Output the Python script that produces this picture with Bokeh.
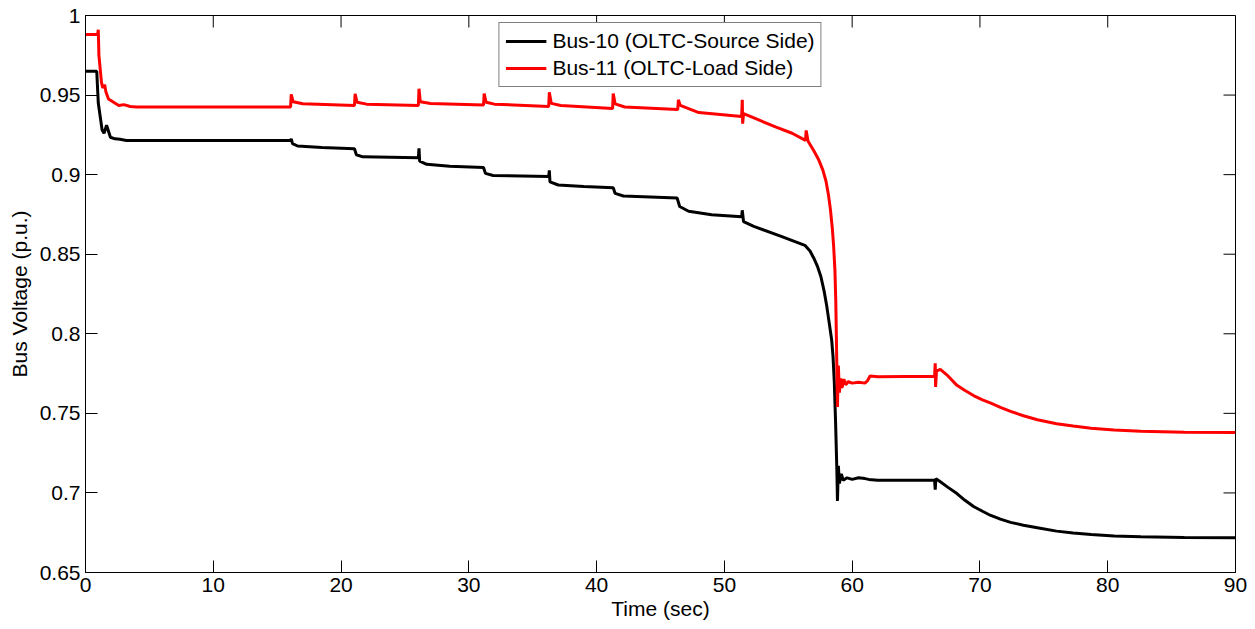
import math
from bokeh.plotting import figure
from bokeh.models import FixedTicker, Range1d, Legend, LegendItem
from bokeh.embed import file_html
from bokeh.resources import INLINE

# ---- data ----
t_bus10 = [0, 0.88, 1.0, 1.3, 1.45, 1.65, 1.95, 2.3, 2.7, 3.2,
           16.05, 16.1, 16.2, 16.6, 18.5, 21.05, 21.2, 21.7,
           26.05, 26.1, 26.15, 26.7, 28.5, 31.15, 31.3, 31.9,
           36.25, 36.3, 36.35, 37.0, 39.0, 41.3, 41.45, 42.1,
           46.3, 46.5, 47.2, 49.0, 51.35, 51.4, 51.5, 52.3, 54.5, 56.3,
           56.7, 57.0, 57.3, 57.55, 57.8, 58.0, 58.2, 58.4, 58.5, 58.6, 58.7, 58.8, 58.85,
           58.92, 59.0, 59.15, 59.3, 59.6, 60.0, 60.5, 61.0, 61.3, 62.0,
           66.45, 66.5, 66.55, 66.9, 67.5, 68.2, 68.8, 69.5, 70.2, 70.8, 71.6, 72.4, 73.4,
           74.6, 76.0, 77.3, 78.7, 80.5, 82.6, 86.0, 90.0]
v_bus10 = [0.965, 0.965, 0.945, 0.928, 0.926, 0.931, 0.9235, 0.9225, 0.9222, 0.9215,
           0.9215, 0.9225, 0.9195, 0.918, 0.917, 0.9163, 0.9125, 0.9112,
           0.9106, 0.9165, 0.9085, 0.9065, 0.9052, 0.9045, 0.9008, 0.8995,
           0.8988, 0.9027, 0.8955, 0.8935, 0.8925, 0.8918, 0.8882, 0.8866,
           0.8853, 0.8800, 0.8770, 0.8748, 0.8735, 0.8776, 0.8705, 0.8675, 0.8610, 0.8556,
           0.8520, 0.8475, 0.8420, 0.8360, 0.8270, 0.8180, 0.8070, 0.7959, 0.7860, 0.7700, 0.7450, 0.7150, 0.6950,
           0.7170, 0.7060, 0.7120, 0.7080, 0.7095, 0.7085, 0.7095, 0.7090, 0.7085, 0.7080,
           0.7080, 0.7020, 0.7090, 0.7070, 0.7035, 0.6996, 0.6955, 0.6915, 0.6885, 0.6860, 0.6835, 0.6815, 0.6797,
           0.6780, 0.6760, 0.6748, 0.6739, 0.6730, 0.6724, 0.6720, 0.6718]

t_bus11 = [0, 0.95, 1.0, 1.05, 1.25, 1.35, 1.5, 1.6, 1.8, 2.2, 2.6, 3.0, 3.5, 4.0,
           16.05, 16.1, 16.25, 17.0, 21.05, 21.1, 21.25, 22.0,
           26.05, 26.1, 26.2, 27.0, 31.15, 31.2, 31.35, 32.0,
           36.25, 36.3, 36.45, 37.2, 41.25, 41.3, 41.45, 42.2,
           46.35, 46.4, 46.55, 48.0, 51.35, 51.4, 51.43, 51.5, 52.5, 54.0, 55.3,
           56.35, 56.4, 56.55, 57.0, 57.4, 57.7, 57.95, 58.15, 58.3, 58.45, 58.55, 58.65, 58.72, 58.78, 58.85,
           58.92, 59.0, 59.1, 59.2, 59.35, 59.5, 59.7, 60.0, 60.5, 61.0, 61.2, 61.4, 62.0,
           66.45, 66.5, 66.53, 66.6, 66.9, 67.5, 68.2, 68.8, 69.5, 70.2, 70.9, 71.6, 72.4, 73.4,
           74.5, 76.0, 77.3, 78.7, 80.5, 82.6, 86.0, 90.0]
v_bus11 = [0.988, 0.988, 0.991, 0.975, 0.958, 0.9545, 0.9565, 0.952, 0.9475, 0.9455, 0.9435, 0.9440, 0.9428, 0.9425,
           0.9425, 0.9505, 0.9458, 0.9445, 0.9435, 0.9508, 0.9455, 0.9443,
           0.9435, 0.9540, 0.9458, 0.9447, 0.9438, 0.9510, 0.9455, 0.9443,
           0.9428, 0.9517, 0.9448, 0.9435, 0.9415, 0.9510, 0.9445, 0.9425,
           0.9410, 0.9470, 0.9435, 0.9390, 0.9366, 0.9470, 0.9320, 0.9384, 0.9350, 0.9300, 0.9260,
           0.9215, 0.9278, 0.9210, 0.9150, 0.9090, 0.9030, 0.8960, 0.8870, 0.8780, 0.8660, 0.8550, 0.8400, 0.8200, 0.7900, 0.7540,
           0.7800, 0.7630, 0.7720, 0.7660, 0.7715, 0.7680, 0.7700, 0.7690, 0.7695, 0.7690, 0.7705, 0.7735, 0.7730,
           0.7733, 0.7815, 0.7666, 0.7765, 0.7776, 0.7735, 0.7676, 0.7645, 0.7612, 0.7585, 0.7563, 0.7538, 0.7512, 0.7485,
           0.7460, 0.7435, 0.7420, 0.7406, 0.7395, 0.7387, 0.7382, 0.7380]

x_ticks = [0, 10, 20, 30, 40, 50, 60, 70, 80, 90]
y_ticks = [0.65, 0.7, 0.75, 0.8, 0.85, 0.9, 0.95, 1.0]
y_tick_labels = ["0.65", "0.7", "0.75", "0.8", "0.85", "0.9", "0.95", "1"]
series_names = ["Bus-10 (OLTC-Source Side)", "Bus-11 (OLTC-Load Side)"]
series_colors = ["#000000", "#ff0000"]

FONT = "Liberation Sans"
FS = "21px"
TICK = 12

x_lo, x_hi = x_ticks[0], x_ticks[-1]
y_lo, y_hi = y_ticks[0], y_ticks[-1]

p = figure(width=1255, height=629, output_backend="svg", toolbar_location=None,
           x_range=Range1d(x_lo, x_hi), y_range=Range1d(y_lo, y_hi),
           min_border_left=85, min_border_right=20, min_border_top=15, min_border_bottom=57)
p.background_fill_color = "white"
p.border_fill_color = "white"
p.outline_line_color = "black"
p.outline_line_width = 1
p.xgrid.visible = False
p.ygrid.visible = False

r10 = p.line(t_bus10, v_bus10, line_color=series_colors[0], line_width=3)
r11 = p.line(t_bus11, v_bus11, line_color=series_colors[1], line_width=3)

# inward ticks on the top and right sides of the box (MATLAB "box on")
p.ray(x=x_ticks, y=[y_hi] * len(x_ticks), length=TICK, length_units="screen",
      angle=-math.pi / 2, line_color="black", line_width=1)
p.ray(x=[x_hi] * len(y_ticks), y=y_ticks, length=TICK, length_units="screen",
      angle=math.pi, line_color="black", line_width=1)


def style_axis(ax, ticks):
    ax.ticker = FixedTicker(ticks=ticks)
    ax.major_tick_in = TICK
    ax.major_tick_out = 0
    ax.minor_tick_in = 0
    ax.minor_tick_out = 0
    ax.axis_line_color = "black"
    ax.major_tick_line_color = "black"
    ax.major_label_text_font = FONT
    ax.major_label_text_color = "black"
    ax.major_label_text_font_size = FS
    ax.major_label_standoff = 5
    ax.axis_label_text_font = FONT
    ax.axis_label_text_font_style = "normal"
    ax.axis_label_text_color = "black"
    ax.axis_label_text_font_size = FS


xa = p.xaxis[0]
style_axis(xa, x_ticks)
xa.axis_label = "Time (sec)"
xa.axis_label_standoff = 2

ya = p.yaxis[0]
style_axis(ya, y_ticks)
ya.major_label_overrides = {t: s for t, s in zip(y_ticks, y_tick_labels)}
ya.axis_label = "Bus Voltage (p.u.)"
ya.axis_label_standoff = 6

legend = Legend(items=[LegendItem(label=series_names[0], renderers=[r10]),
                       LegendItem(label=series_names[1], renderers=[r11])],
                location="top_center", margin=7, padding=6, spacing=3,
                glyph_width=41, glyph_height=20, label_height=20, label_standoff=6,
                label_text_font=FONT, label_text_font_size=FS, label_text_color="black",
                border_line_color="black", border_line_width=1,
                background_fill_color="white", background_fill_alpha=1.0)
p.add_layout(legend, "center")

open("out.html", "w").write(file_html(p, INLINE))
